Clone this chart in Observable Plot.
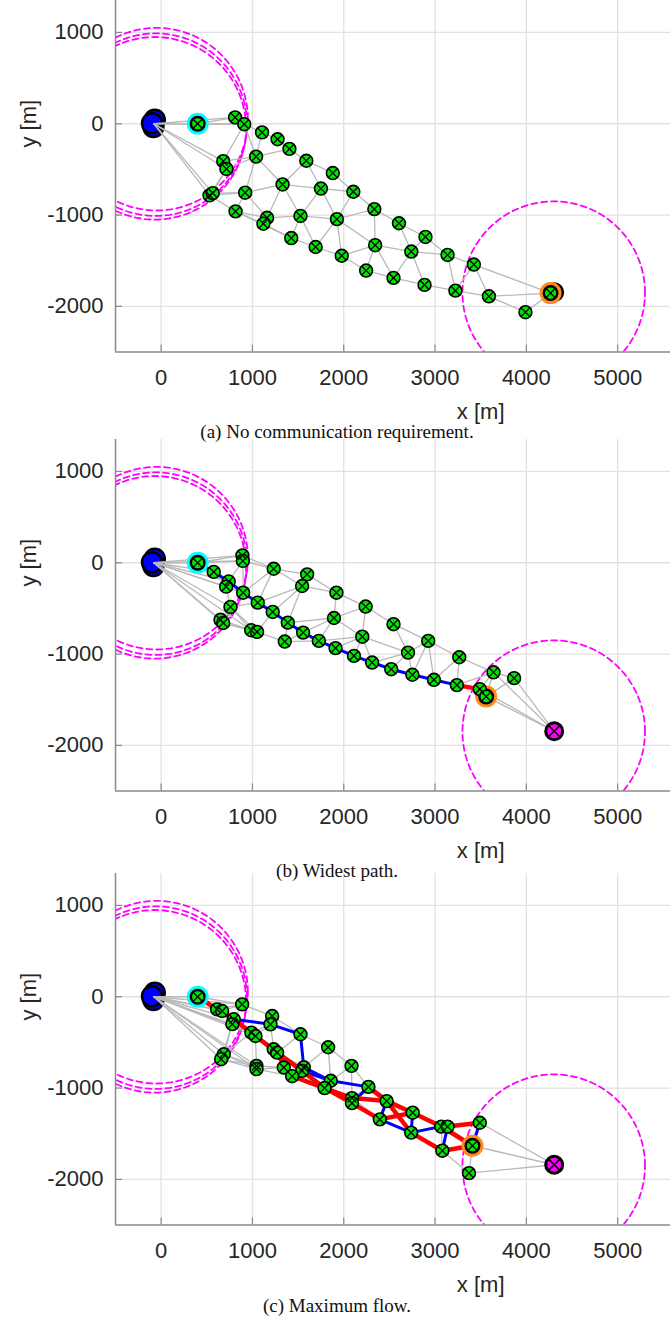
<!DOCTYPE html>
<html><head><meta charset="utf-8">
<script src="https://cdn.jsdelivr.net/npm/d3@7"></script>
<script src="https://cdn.jsdelivr.net/npm/@observablehq/plot@0.6"></script>
<style>
html,body{margin:0;padding:0;background:#fff;width:670px;height:1317px;overflow:hidden;position:relative}
.panel{position:absolute;left:0;width:670px;overflow:hidden}
.panel svg{position:absolute;left:0;top:-115px;max-width:none!important}
.cap{position:absolute;left:0;width:674px;text-align:center;font-size:19px;font-family:"Liberation Serif","Times New Roman",serif;color:#111;z-index:5;line-height:22px;white-space:nowrap}
</style></head><body>
<div id="p0" class="panel" style="top:0px;height:439px"></div>
<div id="p1" class="panel" style="top:439px;height:434px"></div>
<div id="p2" class="panel" style="top:873px;height:444px"></div>
<div id="c0" class="cap" style="top:421px"></div>
<div id="c1" class="cap" style="top:860px"></div>
<div id="c2" class="cap" style="top:1295px"></div>
<script>
// ---- axes ----
const xLim = [-500, 7500];
const yLim = [-2500, 2500];
const xTicks = [0, 1000, 2000, 3000, 4000, 5000];
const yTicks = [-2000, -1000, 0, 1000];
const xLabel = "x [m]";
const yLabel = "y [m]";
const captions = ["(a) No communication requirement.", "(b) Widest path.", "(c) Maximum flow."];

// ---- communication ranges (dashed circles) ----
const commRadius = 1000;
const baseCircleCenters = [[-50, 50], [-60, -10], [-70, -50]];
const targetCircleCenter = [4300, -1850];
const baseUnits = [[-70, 45], [-85, -35], [-100, 5]];

// ---- panel (a): node positions [x, y]; 0 = base, 1 = start, last-1 = destination relay, last = target ----
const nodes1 = [
  [-80, 0], [400, 0],
  [810, 70], [910, -5], [1105, -95], [1275, -170], [1405, -275], [1040, -360], [680, -410], [715, -495],
  [1590, -405], [1880, -540], [1330, -665], [1750, -710], [2105, -745], [920, -755], [530, -785], [565, -760],
  [815, -960], [1160, -1030], [1120, -1095], [1526, -1010], [1925, -1045], [2335, -935], [2605, -1090],
  [1425, -1252], [1692, -1350], [1978, -1446], [2344, -1330], [2740, -1400], [2895, -1240],
  [2245, -1608], [2545, -1688], [2885, -1765], [3137, -1437], [3223, -1828], [3425, -1542], [3590, -1890], [3990, -2064],
  [4265, -1855],
  [4305, -1845]
];
const edges1 = [[0,1],[0,2],[0,3],[0,8],[0,9],[0,16],[0,17],[1,2],[1,3],[2,3],[3,4],[4,5],[5,6],[3,7],[3,8],[4,7],[6,7],[7,8],[7,9],[8,9],[9,16],[9,17],[16,17],[7,12],[7,15],[6,10],[10,11],[10,12],[10,13],[11,14],[12,13],[13,14],[12,15],[15,16],[15,17],[15,18],[15,19],[16,18],[12,19],[12,21],[13,21],[13,22],[14,22],[14,23],[18,19],[18,20],[19,20],[19,21],[18,25],[20,25],[21,25],[21,26],[21,22],[22,26],[22,27],[22,28],[22,23],[23,28],[23,24],[24,29],[24,30],[25,26],[26,27],[27,28],[27,31],[28,29],[28,31],[28,32],[29,30],[29,32],[29,33],[29,34],[30,34],[31,32],[32,33],[33,35],[34,35],[34,36],[35,36],[35,37],[36,37],[36,39],[37,38],[37,39],[38,39]];
const blue1 = [];
const red1 = [];

// ---- panel (b) ----
const nodes2 = [
  [-80, 0], [400, 0],
  [890, 80], [895, 20], [576, -100], [740, -205], [712, -262], [898, -328], [1058, -437], [759, -484],
  [1222, -539], [650, -625], [680, -660], [1387, -656], [986, -739], [1051, -757], [1233, -66], [1599, -127],
  [1544, -255], [1555, -765], [1354, -863], [1727, -856], [1893, -605], [1920, -328], [2240, -480], [2203, -810],
  [1910, -935], [2112, -1020], [2311, -1093], [2545, -673], [2520, -1166], [2704, -984], [2925, -856],
  [2752, -1227], [2988, -1282], [3265, -1035], [3239, -1340], [3490, -1384], [3640, -1200], [3866, -1264],
  [3560, -1466],
  [4305, -1845]
];
const edges2 = [[0,1],[0,2],[0,3],[0,4],[0,5],[0,6],[0,9],[0,11],[0,12],[0,7],[0,14],[1,2],[1,3],[1,4],[2,3],[2,16],[3,16],[3,5],[3,7],[4,5],[4,6],[5,6],[6,7],[6,9],[7,8],[7,16],[8,16],[8,18],[8,10],[9,11],[9,12],[8,9],[11,12],[11,14],[12,14],[12,15],[9,14],[9,15],[14,15],[15,20],[15,10],[10,18],[10,13],[13,18],[16,17],[16,18],[17,18],[17,23],[18,23],[13,22],[13,19],[13,20],[19,20],[19,21],[20,21],[19,22],[21,22],[22,23],[22,24],[23,24],[22,25],[21,25],[21,26],[25,26],[25,27],[26,27],[24,29],[24,25],[25,28],[25,31],[27,28],[28,30],[28,31],[29,31],[29,32],[31,32],[30,31],[30,33],[31,33],[32,33],[32,34],[32,35],[33,34],[34,35],[34,36],[35,36],[35,38],[36,38],[36,37],[37,38],[38,39],[38,40],[39,40],[37,40],[39,41],[40,41],[38,41],[37,41]];
const blue2 = [[1,4],[4,5],[5,7],[7,8],[8,10],[10,13],[13,19],[19,21],[21,26],[26,27],[27,28],[28,30],[30,33],[33,34],[34,36]];
const red2 = [[36,37]];

// ---- panel (c) ----
const nodes3 = [
  [-80, 0], [400, 0],
  [613, -138], [668, -156], [887, -83], [795, -247], [780, -300], [1216, -211], [1197, -302], [989, -393],
  [1033, -430], [1526, -411], [1233, -575], [1270, -612], [686, -630], [657, -684], [1829, -553], [1044, -757],
  [1044, -793], [1343, -775], [1562, -773], [1544, -812], [1435, -870], [2085, -757], [1858, -920], [1790, -1000],
  [2270, -987], [2090, -1110], [2090, -1165], [2470, -1143], [2395, -1343], [2755, -1270], [2738, -1488],
  [3068, -1422], [3137, -1422], [3080, -1686], [3490, -1380], [3372, -1932],
  [3410, -1632],
  [4305, -1840]
];
const edges3 = [[0,1],[0,2],[0,3],[0,4],[0,5],[0,6],[0,9],[0,14],[0,15],[0,17],[0,18],[0,10],[1,2],[1,3],[1,4],[2,4],[3,4],[2,5],[4,5],[4,7],[5,6],[6,9],[5,9],[6,14],[6,15],[7,8],[7,11],[8,9],[8,10],[9,10],[8,12],[10,12],[12,13],[11,16],[11,13],[9,14],[14,15],[14,17],[14,18],[15,18],[15,17],[17,18],[10,17],[17,19],[18,19],[18,22],[12,19],[13,19],[13,20],[19,22],[20,21],[21,22],[16,20],[16,23],[16,24],[23,24],[23,26],[24,25],[22,25],[23,27],[26,27],[27,28],[26,31],[27,30],[31,34],[33,34],[33,35],[34,38],[36,38],[36,39],[38,39],[37,39],[35,37],[37,38]];
const blue3 = [[5,8],[8,11],[11,20],[20,24],[9,12],[12,21],[21,24],[24,26],[26,28],[29,30],[30,32],[31,32],[32,33],[34,35],[35,38],[36,38]];
const red3 = [[1,2],[2,3],[3,5],[5,10],[10,13],[13,21],[21,25],[12,22],[22,25],[25,27],[25,28],[27,29],[26,29],[28,30],[29,31],[29,32],[30,31],[31,33],[33,38],[32,35],[35,38],[34,36]];

// ---- drawing ----
const GREEN = "#00e600";
const W = 846, H = 547, MT = 10, MB = 80.5, ML = 115, MR = 0.6;
const frameW = W - ML - MR, frameH = H - MT - MB;

function ring(center, r) {
  return d3.range(0, 361, 3).map(a => ({x: center[0] + r * Math.cos(a * Math.PI / 180), y: center[1] + r * Math.sin(a * Math.PI / 180), k: center.join(",")}));
}
const circlePts = [...baseCircleCenters, targetCircleCenter].flatMap(c => ring(c, commRadius));

function linkOpts(nodes, stroke, strokeWidth) {
  return {x1: d => nodes[d[0]][0], y1: d => nodes[d[0]][1], x2: d => nodes[d[1]][0], y2: d => nodes[d[1]][1], stroke, strokeWidth, strokeLinecap: "round"};
}

function panel(nodes, edges, blue, red) {
  const n = nodes.length;
  const start = nodes[1], dest = nodes[n - 2], target = nodes[n - 1];
  const relays = nodes.slice(1, n - 1);
  return Plot.plot({
    width: W, height: H, marginLeft: ML, marginRight: MR, marginTop: MT, marginBottom: MB,
    style: {fontSize: "22px", fontFamily: "'Liberation Sans', Arial, sans-serif", color: "#262626", background: "white", maxWidth: "none", overflow: "hidden"},
    x: {domain: xLim, ticks: xTicks, tickSize: 0, tickPadding: 17, tickFormat: d => String(d), label: null},
    y: {domain: yLim, ticks: yTicks, tickSize: 0, tickPadding: 12, tickFormat: d => String(d), label: null},
    marks: [
      Plot.ruleX(xTicks, {x: d => d, stroke: "#e1e1e1", strokeWidth: 1.3}),
      Plot.ruleY(yTicks, {y: d => d, stroke: "#e1e1e1", strokeWidth: 1.3}),
      Plot.line(circlePts, {x: "x", y: "y", z: "k", stroke: "#ff00ff", strokeWidth: 1.8, strokeDasharray: "6,4", clip: true}),
      Plot.dot(baseUnits, {x: d => d[0], y: d => d[1], r: 10, fill: "#0000ff", stroke: "#000", strokeWidth: 2.5}),
      Plot.link(edges, linkOpts(nodes, "#b9b9b9", 1.3)),
      Plot.link(blue, linkOpts(nodes, "#0000ff", 3)),
      Plot.link(red, linkOpts(nodes, "#ff0000", 4.5)),
      Plot.dot([target], {x: d => d[0], y: d => d[1], r: 8.5, fill: "#ff00ff", stroke: "#000", strokeWidth: 3}),
      Plot.dot([target], {x: d => d[0], y: d => d[1], symbol: "times", r: 5.4, stroke: "#000", strokeWidth: 1.5}),
      Plot.dot([start], {x: d => d[0], y: d => d[1], r: 11, fill: "#00ffff"}),
      Plot.dot([dest], {x: d => d[0], y: d => d[1], r: 11, fill: "#ff8a1f"}),
      Plot.dot([start, dest], {x: d => d[0], y: d => d[1], r: 8, fill: "#000"}),
      Plot.dot(relays, {x: d => d[0], y: d => d[1], r: 6.4, fill: GREEN, stroke: "#000", strokeWidth: 1.6}),
      Plot.dot(relays, {x: d => d[0], y: d => d[1], symbol: "times", r: 4, stroke: "#000", strokeWidth: 1.3}),
      Plot.ruleY([yLim[0]], {y: d => d, stroke: "#8a8a8a", strokeWidth: 1.5}),
      Plot.ruleX([xLim[0]], {x: d => d, stroke: "#8a8a8a", strokeWidth: 1.5}),
      Plot.tickX(xTicks, {x: d => d, insetTop: frameH - 7, stroke: "#8a8a8a", strokeWidth: 1.2}),
      Plot.tickY(yTicks, {y: d => d, insetRight: frameW - 7, stroke: "#8a8a8a", strokeWidth: 1.2}),
      Plot.text([xLabel], {text: d => d, frameAnchor: "bottom", dy: 60, lineAnchor: "middle", fill: "#262626"}),
      Plot.text([yLabel], {text: d => d, frameAnchor: "left", dx: -87, rotate: -90, lineAnchor: "middle", textAnchor: "middle", fill: "#262626"})
    ]
  });
}

const panels = [[nodes1, edges1, blue1, red1], [nodes2, edges2, blue2, red2], [nodes3, edges3, blue3, red3]];
panels.forEach((p, i) => {
  document.getElementById("p" + i).appendChild(panel(...p));
  document.getElementById("c" + i).textContent = captions[i];
});
</script>
</body></html>
